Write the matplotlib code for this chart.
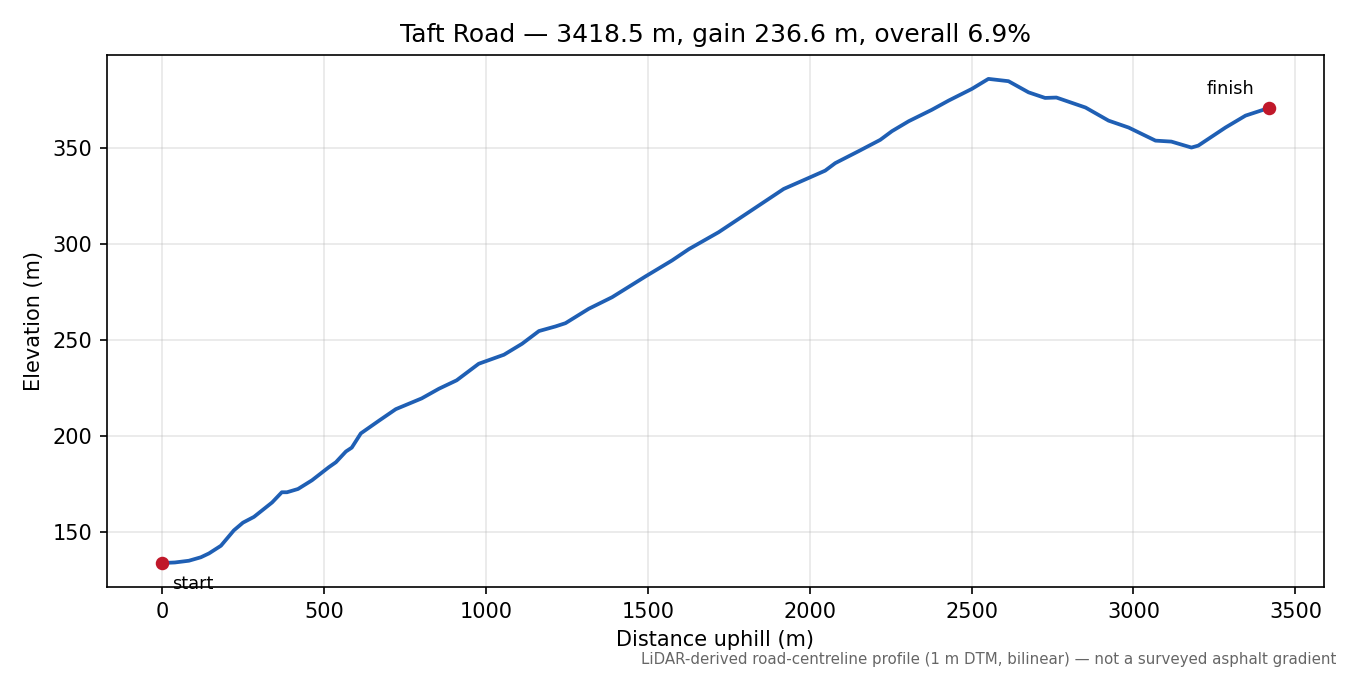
import matplotlib
matplotlib.use("Agg")
import matplotlib.pyplot as plt

distance = [0, 40, 83, 120, 145, 182, 222, 250, 284, 340, 370, 386, 420, 463, 515, 537, 568,
            586, 614, 670, 722, 772, 802, 855, 910, 978, 1056, 1112, 1164, 1215, 1246, 1318,
            1390, 1493, 1575, 1627, 1719, 1812, 1920, 1997, 2048, 2079, 2151, 2218, 2254,
            2306, 2377, 2429, 2501, 2552, 2614, 2676, 2727, 2762, 2852, 2923, 2985, 3068,
            3117, 3179, 3200, 3284, 3346, 3418.5]
elevation = [134.0, 134.3, 135.2, 137.0, 139.0, 143.0, 151.0, 155.0, 158.0, 165.5, 170.8,
             170.8, 172.5, 177.0, 183.8, 186.4, 192.0, 194.0, 201.4, 208.0, 214.0, 217.5,
             219.6, 224.6, 229.0, 237.6, 242.3, 248.0, 254.6, 257.0, 258.7, 266.2, 272.2,
             283.0, 291.3, 297.2, 306.0, 316.4, 328.5, 334.2, 338.0, 341.9, 348.1, 354.0,
             358.5, 363.7, 369.6, 374.4, 380.5, 385.7, 384.5, 378.7, 375.8, 376.0, 370.8,
             364.0, 360.4, 353.6, 353.1, 350.0, 351.0, 360.4, 366.6, 370.6]

title = "Taft Road — 3418.5 m, gain 236.6 m, overall 6.9%"
footnote = "LiDAR-derived road-centreline profile (1 m DTM, bilinear) — not a surveyed asphalt gradient"

fig, ax = plt.subplots(figsize=(9, 4.5), dpi=150)
ax.plot(distance, elevation, color="#1f5fb4", linewidth=1.8, zorder=2,
        solid_joinstyle="round", solid_capstyle="round")
ax.scatter([distance[0], distance[-1]], [elevation[0], elevation[-1]],
           color="#c0182a", s=30, zorder=3)
ax.annotate("start", (distance[0], elevation[0]), xytext=(5, -10),
            textcoords="offset points", fontsize=8.5, va="center", ha="left")
ax.annotate("finish", (distance[-1], elevation[-1]), xytext=(-7, 9),
            textcoords="offset points", fontsize=8.5, va="center", ha="right")
ax.grid(True, alpha=0.3)
ax.set_xlabel("Distance uphill (m)")
ax.set_ylabel("Elevation (m)")
ax.set_title(title, fontsize=12)
ax.set_yticks([150, 200, 250, 300, 350])
fig.text(0.99, 0.012, footnote, ha="right", va="bottom", fontsize=7.2, color="#666666")
fig.subplots_adjust(left=0.079, right=0.981, top=0.919, bottom=0.130)
fig.savefig("out.png", dpi=150)
